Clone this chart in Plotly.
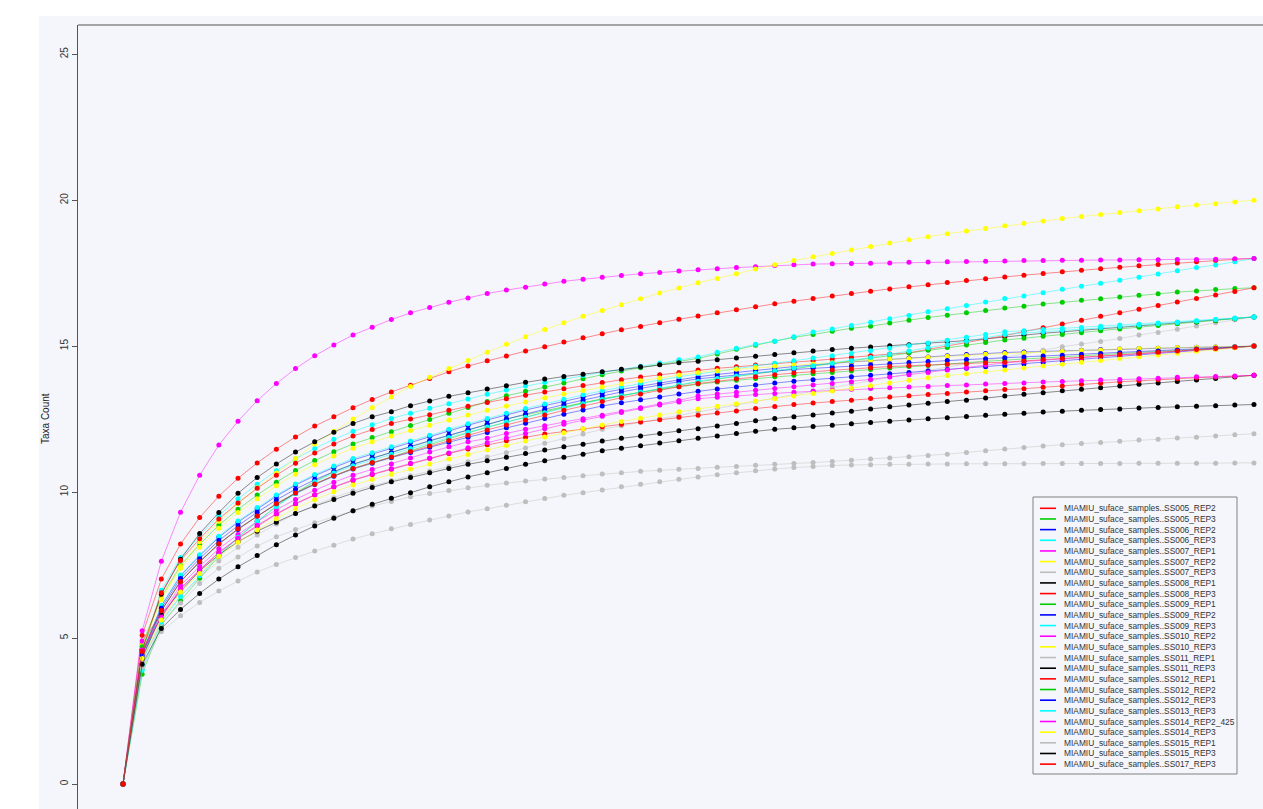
import plotly.graph_objects as go

# Rarefaction depth steps (x positions of the sampled points)
steps = list(range(60))

sample_names = [
    "MIAMIU_suface_samples..SS005_REP2", "MIAMIU_suface_samples..SS005_REP3",
    "MIAMIU_suface_samples..SS006_REP2", "MIAMIU_suface_samples..SS006_REP3",
    "MIAMIU_suface_samples..SS007_REP1", "MIAMIU_suface_samples..SS007_REP2",
    "MIAMIU_suface_samples..SS007_REP3", "MIAMIU_suface_samples..SS008_REP1",
    "MIAMIU_suface_samples..SS008_REP3", "MIAMIU_suface_samples..SS009_REP1",
    "MIAMIU_suface_samples..SS009_REP2", "MIAMIU_suface_samples..SS009_REP3",
    "MIAMIU_suface_samples..SS010_REP2", "MIAMIU_suface_samples..SS010_REP3",
    "MIAMIU_suface_samples..SS011_REP1", "MIAMIU_suface_samples..SS011_REP3",
    "MIAMIU_suface_samples..SS012_REP1", "MIAMIU_suface_samples..SS012_REP2",
    "MIAMIU_suface_samples..SS012_REP3", "MIAMIU_suface_samples..SS013_REP3",
    "MIAMIU_suface_samples..SS014_REP2_425", "MIAMIU_suface_samples..SS014_REP3",
    "MIAMIU_suface_samples..SS015_REP1", "MIAMIU_suface_samples..SS015_REP3",
    "MIAMIU_suface_samples..SS017_REP3",
]

# R default palette cycle: red, green3, blue, cyan, magenta, yellow, gray, black
palette = ["#FF0000", "#00CD00", "#0000FF", "#00FFFF",
           "#FF00FF", "#FFFF00", "#BEBEBE", "#000000"]
series_colors = [palette[i % 8] for i in range(len(sample_names))]

# Mean taxa count at each rarefaction step, one list per sample
ss005_rep2 = [0, 5.10, 7.02, 8.22, 9.13, 9.86, 10.47, 11.00, 11.47, 11.89, 12.26, 12.58, 12.89, 13.17, 13.43,
              13.66, 13.89, 14.12, 14.32, 14.50, 14.66, 14.83, 14.98, 15.14, 15.29, 15.42, 15.56, 15.67, 15.80, 15.92, 16.03,
              16.14, 16.25, 16.35, 16.45, 16.54, 16.63, 16.72, 16.80, 16.88, 16.96, 17.03, 17.10, 17.18, 17.25, 17.31, 17.37,
              17.43, 17.49, 17.55, 17.60, 17.65, 17.70, 17.75, 17.80, 17.85, 17.89, 17.93, 17.97, 18.00]
ss005_rep3 = [0, 4.80, 6.40, 7.48, 8.21, 8.87, 9.41, 9.90, 10.34, 10.74, 11.08, 11.38, 11.65, 11.87, 12.07,
              12.28, 12.49, 12.70, 12.90, 13.10, 13.30, 13.45, 13.60, 13.74, 13.88, 14.02, 14.15, 14.26, 14.37, 14.48, 14.58,
              14.73, 14.89, 15.03, 15.17, 15.30, 15.40, 15.51, 15.61, 15.68, 15.79, 15.89, 15.98, 16.06, 16.14, 16.22, 16.31,
              16.37, 16.44, 16.50, 16.57, 16.62, 16.68, 16.74, 16.79, 16.85, 16.89, 16.94, 16.97, 17.00]
ss006_rep2 = [0, 4.47, 6.10, 7.13, 7.82, 8.45, 8.97, 9.43, 9.86, 10.24, 10.56, 10.84, 11.10, 11.30, 11.50,
              11.71, 11.91, 12.10, 12.29, 12.47, 12.65, 12.81, 12.96, 13.11, 13.26, 13.40, 13.52, 13.63, 13.74, 13.85, 13.95,
              14.03, 14.10, 14.17, 14.24, 14.30, 14.35, 14.41, 14.46, 14.50, 14.55, 14.59, 14.63, 14.67, 14.71, 14.75, 14.78,
              14.80, 14.82, 14.84, 14.86, 14.88, 14.90, 14.92, 14.93, 14.95, 14.96, 14.97, 14.99, 15.00]
ss006_rep3 = [0, 4.50, 6.64, 7.76, 8.51, 9.20, 9.77, 10.27, 10.73, 11.14, 11.49, 11.81, 12.08, 12.31, 12.52,
              12.70, 12.87, 13.03, 13.19, 13.35, 13.50, 13.63, 13.75, 13.87, 13.99, 14.10, 14.20, 14.31, 14.42, 14.53, 14.63,
              14.79, 14.93, 15.06, 15.17, 15.32, 15.48, 15.59, 15.71, 15.82, 15.94, 16.05, 16.18, 16.28, 16.39, 16.51, 16.63,
              16.72, 16.83, 16.95, 17.05, 17.15, 17.26, 17.36, 17.47, 17.58, 17.69, 17.78, 17.89, 18.00]
ss007_rep1 = [0, 5.25, 7.63, 9.31, 10.58, 11.61, 12.43, 13.13, 13.72, 14.23, 14.67, 15.04, 15.38, 15.65, 15.91,
              16.14, 16.32, 16.50, 16.65, 16.80, 16.92, 17.02, 17.13, 17.22, 17.29, 17.36, 17.42, 17.48, 17.52, 17.57, 17.62,
              17.65, 17.69, 17.72, 17.76, 17.79, 17.81, 17.82, 17.83, 17.84, 17.85, 17.87, 17.88, 17.89, 17.90, 17.91, 17.92,
              17.93, 17.93, 17.94, 17.94, 17.95, 17.95, 17.96, 17.96, 17.97, 17.97, 17.98, 17.99, 18.00]
ss007_rep2 = [0, 4.75, 6.40, 7.45, 8.30, 9.00, 9.60, 10.15, 10.65, 11.15, 11.65, 12.08, 12.50, 12.89, 13.26,
              13.62, 13.93, 14.23, 14.51, 14.79, 15.06, 15.32, 15.57, 15.80, 16.02, 16.22, 16.42, 16.62, 16.82, 16.99, 17.17,
              17.32, 17.48, 17.64, 17.79, 17.93, 18.06, 18.17, 18.29, 18.41, 18.53, 18.64, 18.75, 18.85, 18.94, 19.03, 19.12,
              19.21, 19.29, 19.37, 19.44, 19.51, 19.58, 19.64, 19.70, 19.77, 19.83, 19.88, 19.94, 20.00]
ss007_rep3 = [0, 4.20, 5.60, 6.45, 7.07, 7.64, 8.11, 8.53, 8.91, 9.26, 9.55, 9.81, 10.04, 10.22, 10.40,
              10.56, 10.72, 10.88, 11.04, 11.20, 11.35, 11.51, 11.67, 11.83, 11.99, 12.15, 12.27, 12.39, 12.51, 12.63, 12.75,
              12.87, 12.99, 13.11, 13.23, 13.35, 13.47, 13.59, 13.71, 13.83, 13.95, 14.06, 14.17, 14.28, 14.39, 14.50, 14.61,
              14.73, 14.86, 14.98, 15.07, 15.16, 15.26, 15.38, 15.47, 15.58, 15.69, 15.80, 15.90, 16.00]
ss008_rep1 = [0, 4.60, 6.50, 7.70, 8.58, 9.30, 9.96, 10.50, 10.96, 11.37, 11.72, 12.05, 12.35, 12.58, 12.75,
              12.96, 13.12, 13.28, 13.40, 13.53, 13.64, 13.76, 13.87, 13.96, 14.04, 14.12, 14.21, 14.29, 14.36, 14.43, 14.48,
              14.53, 14.59, 14.65, 14.71, 14.77, 14.83, 14.88, 14.93, 14.97, 15.01, 15.05, 15.09, 15.14, 15.19, 15.25, 15.32,
              15.38, 15.44, 15.49, 15.54, 15.59, 15.64, 15.68, 15.73, 15.78, 15.83, 15.88, 15.94, 16.00]
ss008_rep3 = [0, 4.60, 6.55, 7.66, 8.40, 9.08, 9.63, 10.13, 10.58, 10.99, 11.34, 11.65, 11.92, 12.14, 12.35,
              12.50, 12.65, 12.80, 12.94, 13.07, 13.20, 13.32, 13.43, 13.54, 13.65, 13.75, 13.85, 13.94, 14.02, 14.10, 14.18,
              14.24, 14.29, 14.35, 14.40, 14.45, 14.50, 14.56, 14.62, 14.67, 14.73, 14.77, 14.89, 15.01, 15.11, 15.24, 15.36,
              15.50, 15.63, 15.76, 15.89, 16.02, 16.14, 16.26, 16.39, 16.51, 16.63, 16.75, 16.87, 17.00]
ss009_rep1 = [0, 3.76, 5.45, 6.28, 7.05, 7.80, 8.45, 9.00, 9.52, 9.97, 10.37, 10.70, 10.96, 11.17, 11.35,
              11.55, 11.75, 11.94, 12.13, 12.32, 12.50, 12.65, 12.79, 12.93, 13.06, 13.18, 13.30, 13.43, 13.55, 13.67, 13.78,
              13.87, 13.96, 14.05, 14.14, 14.23, 14.32, 14.41, 14.50, 14.59, 14.68, 14.77, 14.86, 14.95, 15.04, 15.12, 15.21,
              15.27, 15.34, 15.40, 15.46, 15.53, 15.59, 15.65, 15.71, 15.77, 15.83, 15.88, 15.94, 16.00]
ss009_rep2 = [0, 4.30, 5.93, 6.93, 7.60, 8.22, 8.72, 9.17, 9.58, 9.95, 10.26, 10.54, 10.79, 10.99, 11.18,
              11.36, 11.54, 11.71, 11.88, 12.04, 12.20, 12.36, 12.52, 12.67, 12.81, 12.95, 13.06, 13.16, 13.26, 13.36, 13.45,
              13.53, 13.60, 13.67, 13.74, 13.80, 13.85, 13.90, 13.95, 14.00, 14.05, 14.10, 14.15, 14.20, 14.24, 14.29, 14.33,
              14.39, 14.44, 14.50, 14.55, 14.60, 14.65, 14.70, 14.75, 14.80, 14.85, 14.90, 14.95, 15.00]
ss009_rep3 = [0, 4.08, 6.12, 7.16, 7.85, 8.49, 9.01, 9.47, 9.90, 10.28, 10.60, 10.89, 11.15, 11.35, 11.55,
              11.75, 11.95, 12.15, 12.34, 12.52, 12.70, 12.86, 13.02, 13.18, 13.33, 13.47, 13.60, 13.73, 13.84, 13.95, 14.05,
              14.14, 14.23, 14.32, 14.41, 14.50, 14.59, 14.67, 14.75, 14.84, 14.93, 15.02, 15.11, 15.20, 15.30, 15.40, 15.49,
              15.53, 15.57, 15.61, 15.64, 15.68, 15.72, 15.75, 15.79, 15.83, 15.87, 15.91, 15.96, 16.00]
ss010_rep2 = [0, 4.90, 5.81, 6.80, 7.45, 8.06, 8.55, 8.99, 9.39, 9.75, 10.06, 10.34, 10.58, 10.77, 10.96,
              11.17, 11.37, 11.55, 11.72, 11.84, 12.01, 12.15, 12.27, 12.39, 12.51, 12.63, 12.76, 12.89, 13.02, 13.14, 13.29,
              13.36, 13.42, 13.49, 13.55, 13.61, 13.67, 13.72, 13.78, 13.86, 13.94, 14.02, 14.10, 14.18, 14.26, 14.35, 14.43,
              14.47, 14.52, 14.56, 14.60, 14.65, 14.69, 14.73, 14.78, 14.82, 14.87, 14.91, 14.96, 15.00]
ss010_rep3 = [0, 4.70, 6.32, 7.39, 8.11, 8.76, 9.30, 9.77, 10.22, 10.61, 10.94, 11.24, 11.50, 11.72, 11.92,
              12.11, 12.29, 12.47, 12.64, 12.80, 12.95, 13.09, 13.23, 13.36, 13.48, 13.60, 13.71, 13.81, 13.91, 14.01, 14.10,
              14.16, 14.21, 14.26, 14.31, 14.35, 14.39, 14.43, 14.47, 14.51, 14.55, 14.58, 14.62, 14.65, 14.68, 14.72, 14.75,
              14.77, 14.80, 14.82, 14.85, 14.87, 14.90, 14.92, 14.93, 14.95, 14.96, 14.97, 14.99, 15.00]
ss011_rep1 = [0, 4.20, 5.50, 6.20, 6.87, 7.39, 7.78, 8.15, 8.47, 8.72, 8.95, 9.15, 9.35, 9.52, 9.68,
              9.84, 9.95, 10.05, 10.15, 10.23, 10.31, 10.38, 10.45, 10.50, 10.56, 10.62, 10.66, 10.71, 10.75, 10.78, 10.81,
              10.85, 10.88, 10.92, 10.95, 10.98, 11.01, 11.05, 11.09, 11.13, 11.17, 11.21, 11.25, 11.30, 11.36, 11.42, 11.48,
              11.53, 11.58, 11.62, 11.66, 11.70, 11.74, 11.78, 11.81, 11.85, 11.88, 11.92, 11.96, 12.00]
ss011_rep3 = [0, 4.30, 5.80, 6.60, 7.30, 7.85, 8.30, 8.66, 8.97, 9.27, 9.52, 9.75, 9.96, 10.16, 10.35,
              10.50, 10.66, 10.81, 10.95, 11.07, 11.19, 11.32, 11.44, 11.55, 11.64, 11.75, 11.84, 11.92, 12.01, 12.10, 12.17,
              12.26, 12.35, 12.44, 12.52, 12.58, 12.64, 12.71, 12.77, 12.85, 12.92, 12.98, 13.04, 13.10, 13.15, 13.22, 13.29,
              13.35, 13.40, 13.47, 13.52, 13.57, 13.63, 13.69, 13.74, 13.79, 13.84, 13.89, 13.94, 14.00]
ss012_rep1 = [0, 4.50, 5.71, 6.68, 7.33, 7.92, 8.41, 8.84, 9.24, 9.59, 9.90, 10.17, 10.40, 10.60, 10.78,
              10.98, 11.16, 11.32, 11.48, 11.62, 11.76, 11.88, 11.99, 12.08, 12.16, 12.24, 12.32, 12.40, 12.48, 12.56, 12.63,
              12.71, 12.78, 12.86, 12.93, 13.00, 13.05, 13.10, 13.15, 13.21, 13.26, 13.30, 13.34, 13.38, 13.43, 13.47, 13.51,
              13.54, 13.59, 13.63, 13.69, 13.73, 13.78, 13.81, 13.85, 13.88, 13.92, 13.94, 13.96, 14.00]
ss012_rep2 = [0, 4.70, 5.94, 6.94, 7.62, 8.23, 8.74, 9.18, 9.60, 9.97, 10.28, 10.56, 10.81, 11.01, 11.20,
              11.42, 11.63, 11.83, 12.03, 12.22, 12.40, 12.57, 12.74, 12.90, 13.05, 13.20, 13.31, 13.42, 13.52, 13.61, 13.70,
              13.77, 13.83, 13.89, 13.95, 14.00, 14.05, 14.10, 14.15, 14.20, 14.25, 14.30, 14.34, 14.39, 14.43, 14.48, 14.52,
              14.56, 14.60, 14.63, 14.67, 14.71, 14.74, 14.78, 14.82, 14.85, 14.89, 14.93, 14.96, 15.00]
ss012_rep3 = [0, 4.40, 6.02, 7.04, 7.72, 8.34, 8.85, 9.31, 9.73, 10.10, 10.42, 10.70, 10.95, 11.16, 11.35,
              11.56, 11.76, 11.95, 12.14, 12.32, 12.50, 12.67, 12.84, 13.00, 13.15, 13.30, 13.43, 13.55, 13.67, 13.78, 13.88,
              13.95, 14.02, 14.08, 14.14, 14.20, 14.24, 14.28, 14.32, 14.36, 14.40, 14.44, 14.47, 14.51, 14.54, 14.57, 14.60,
              14.63, 14.66, 14.69, 14.72, 14.75, 14.77, 14.80, 14.83, 14.87, 14.90, 14.93, 14.97, 15.00]
ss013_rep3 = [0, 3.90, 5.55, 6.42, 7.13, 7.85, 8.45, 9.00, 9.50, 9.95, 10.35, 10.65, 10.90, 11.10, 11.30,
              11.49, 11.68, 11.87, 12.05, 12.23, 12.40, 12.56, 12.72, 12.88, 13.03, 13.17, 13.30, 13.43, 13.56, 13.68, 13.80,
              13.89, 13.98, 14.07, 14.15, 14.24, 14.33, 14.41, 14.50, 14.61, 14.72, 14.83, 14.94, 15.05, 15.17, 15.29, 15.40,
              15.45, 15.49, 15.54, 15.58, 15.63, 15.67, 15.72, 15.77, 15.81, 15.86, 15.91, 15.95, 16.00]
ss014_rep2_425 = [0, 4.60, 5.72, 6.70, 7.34, 7.94, 8.42, 8.86, 9.26, 9.61, 9.91, 10.18, 10.42, 10.62, 10.80,
                  10.98, 11.16, 11.34, 11.52, 11.69, 11.85, 12.01, 12.17, 12.32, 12.46, 12.60, 12.73, 12.86, 12.98, 13.09, 13.20,
                  13.25, 13.30, 13.34, 13.38, 13.42, 13.45, 13.49, 13.52, 13.55, 13.57, 13.60, 13.62, 13.65, 13.67, 13.70, 13.72,
                  13.74, 13.77, 13.79, 13.81, 13.84, 13.86, 13.88, 13.90, 13.93, 13.95, 13.96, 13.98, 14.00]
ss014_rep3 = [0, 4.30, 5.62, 6.58, 7.21, 7.80, 8.28, 8.70, 9.09, 9.44, 9.74, 10.01, 10.24, 10.43, 10.61,
              10.79, 10.96, 11.13, 11.29, 11.45, 11.60, 11.75, 11.89, 12.03, 12.17, 12.30, 12.42, 12.53, 12.64, 12.75, 12.85,
              12.94, 13.03, 13.12, 13.20, 13.29, 13.38, 13.46, 13.55, 13.64, 13.74, 13.83, 13.92, 13.99, 14.05, 14.12, 14.18,
              14.25, 14.32, 14.38, 14.45, 14.51, 14.58, 14.64, 14.70, 14.76, 14.82, 14.88, 14.94, 15.00]
ss015_rep1 = [0, 4.00, 5.22, 5.76, 6.22, 6.61, 6.95, 7.26, 7.52, 7.76, 7.98, 8.18, 8.39, 8.57, 8.74,
              8.89, 9.04, 9.18, 9.32, 9.43, 9.55, 9.67, 9.78, 9.89, 9.98, 10.07, 10.18, 10.27, 10.35, 10.44, 10.52,
              10.59, 10.66, 10.73, 10.79, 10.84, 10.88, 10.91, 10.93, 10.94, 10.95, 10.95, 10.96, 10.96, 10.97, 10.97, 10.97,
              10.97, 10.98, 10.98, 10.98, 10.98, 10.98, 10.99, 10.99, 10.99, 10.99, 10.99, 11.00, 11.00]
ss015_rep3 = [0, 4.10, 5.33, 5.98, 6.53, 7.02, 7.44, 7.83, 8.20, 8.53, 8.84, 9.10, 9.36, 9.58, 9.79,
              9.98, 10.18, 10.35, 10.52, 10.66, 10.81, 10.95, 11.07, 11.19, 11.30, 11.42, 11.50, 11.59, 11.68, 11.76, 11.84,
              11.92, 12.01, 12.08, 12.15, 12.20, 12.25, 12.29, 12.34, 12.38, 12.43, 12.47, 12.51, 12.55, 12.59, 12.63, 12.67,
              12.70, 12.74, 12.77, 12.80, 12.83, 12.85, 12.88, 12.90, 12.92, 12.94, 12.96, 12.98, 13.00]
ss017_rep3 = [0, 4.55, 5.94, 6.94, 7.62, 8.23, 8.74, 9.18, 9.60, 9.97, 10.28, 10.56, 10.81, 11.01, 11.20,
              11.39, 11.58, 11.77, 11.95, 12.13, 12.30, 12.47, 12.64, 12.80, 12.95, 13.10, 13.23, 13.36, 13.49, 13.61, 13.72,
              13.80, 13.88, 13.95, 14.02, 14.08, 14.13, 14.18, 14.22, 14.26, 14.30, 14.33, 14.35, 14.38, 14.40, 14.43, 14.45,
              14.49, 14.54, 14.58, 14.62, 14.66, 14.71, 14.75, 14.79, 14.83, 14.88, 14.92, 14.96, 15.00]

series_values = [
    ss005_rep2, ss005_rep3, ss006_rep2, ss006_rep3, ss007_rep1, ss007_rep2, ss007_rep3,
    ss008_rep1, ss008_rep3, ss009_rep1, ss009_rep2, ss009_rep3, ss010_rep2, ss010_rep3,
    ss011_rep1, ss011_rep3, ss012_rep1, ss012_rep2, ss012_rep3, ss013_rep3, ss014_rep2_425,
    ss014_rep3, ss015_rep1, ss015_rep3, ss017_rep3,
]

y_ticks = [0, 5, 10, 15, 20, 25]

# ---- page geometry (pixels) ----
W, H = 1263, 809
M_LEFT, M_TOP = 78, 25
PLOT_W, PLOT_H = W - M_LEFT, H - M_TOP
BG = "#F5F6FB"
FRAME = "#555555"
FONT = "Liberation Sans, Arial, Helvetica, sans-serif"


def px_x(px):
    return (px - M_LEFT) / PLOT_W


def px_y(py):
    return (H - py) / PLOT_H


def hex_rgba(hx, a):
    h = hx.lstrip("#")
    return "rgba(%d,%d,%d,%.2f)" % (int(h[0:2], 16), int(h[2:4], 16), int(h[4:6], 16), a)


fig = go.Figure()

for name, color, vals in zip(sample_names, series_colors, series_values):
    fig.add_trace(go.Scatter(
        x=steps[:len(vals)], y=vals, name=name, mode="lines+markers",
        line=dict(color=hex_rgba(color, 0.45), width=1),
        marker=dict(color=color, size=5, line=dict(width=0)),
        showlegend=False,
    ))

shapes = []
annotations = []

# lavender panel behind the figure (white strip on the top and left edges)
shapes.append(dict(type="rect", xref="paper", yref="paper",
                   x0=px_x(39), x1=1.02, y0=-0.02, y1=px_y(16),
                   fillcolor=BG, line=dict(width=0), layer="below"))
# top edge of the plot frame
shapes.append(dict(type="line", xref="paper", yref="paper",
                   x0=0, x1=1.01, y0=1, y1=1, line=dict(color=FRAME, width=1)))

# legend box
LEG_X0, LEG_X1, LEG_Y0, LEG_Y1 = 1033, 1237, 497, 774
shapes.append(dict(type="rect", xref="paper", yref="paper",
                   x0=px_x(LEG_X0), x1=px_x(LEG_X1), y0=px_y(LEG_Y1), y1=px_y(LEG_Y0),
                   fillcolor=BG, line=dict(color="#808080", width=1)))
row0, row_step = 508.3, 10.66
for i, (name, color) in enumerate(zip(sample_names, series_colors)):
    ry = row0 + i * row_step
    shapes.append(dict(type="line", xref="paper", yref="paper",
                       x0=px_x(1040), x1=px_x(1056), y0=px_y(ry), y1=px_y(ry),
                       line=dict(color=color, width=1.6)))
    annotations.append(dict(xref="paper", yref="paper", x=px_x(1061.5), y=px_y(ry),
                            text=name, showarrow=False, xanchor="left", yanchor="middle",
                            font=dict(family=FONT, size=8.4, color="#333333")))

# y-axis title
annotations.append(dict(xref="paper", yref="paper", x=px_x(45), y=px_y(419),
                        text="Taxa Count", showarrow=False, textangle=-90,
                        xanchor="center", yanchor="middle",
                        font=dict(family=FONT, size=10, color="#222222")))

fig.update_layout(
    width=W, height=H, autosize=False,
    margin=dict(l=M_LEFT, r=0, t=M_TOP, b=0, pad=0),
    paper_bgcolor="white", plot_bgcolor=BG,
    showlegend=False,
    font=dict(family=FONT),
    xaxis=dict(range=[-2.347, 59.47], showgrid=False, zeroline=False,
               showticklabels=False, ticks="", showline=False),
    yaxis=dict(range=[-0.856, 26.0], tickvals=y_ticks, ticks="outside", ticklen=5,
               tickwidth=1, tickcolor=FRAME, tickangle=-90,
               tickfont=dict(family=FONT, size=10, color="#333333"),
               showgrid=False, zeroline=False, showline=True,
               linecolor=FRAME, linewidth=1),
    shapes=shapes,
    annotations=annotations,
)

fig.write_html("out.html")
